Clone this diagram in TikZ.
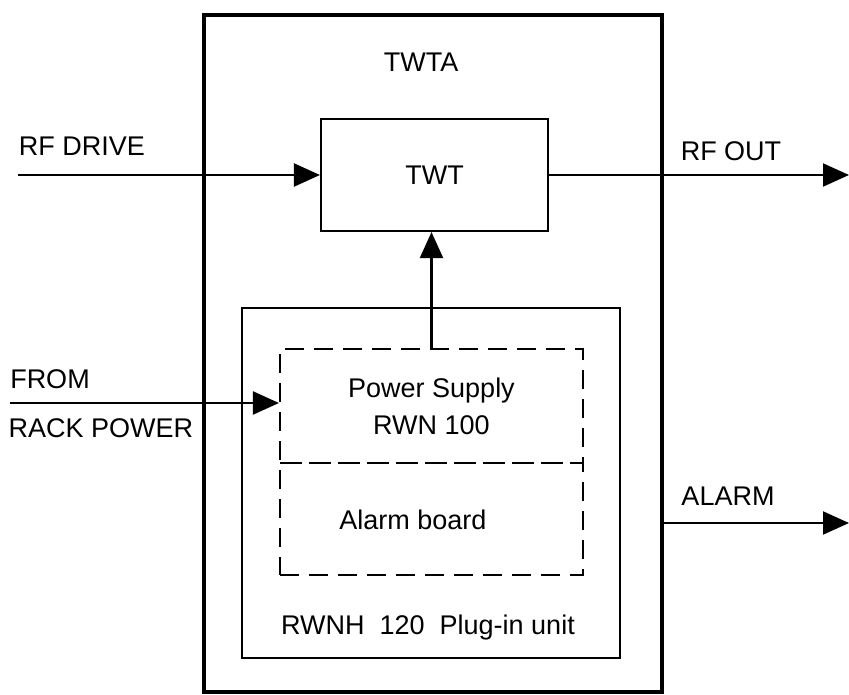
\documentclass[tikz,border=0pt]{standalone}
\usepackage{fontspec}
\setmainfont{Liberation Sans}
\usetikzlibrary{arrows.meta}

\begin{document}
\begin{tikzpicture}[x=1pt,y=-1pt,
    font=\fontsize{27}{37}\selectfont,
    box/.style={draw, line width=2.1pt, inner sep=0pt},
    dbox/.style={draw, line width=2.1pt, inner sep=0pt, dash pattern=on 19pt off 10pt},
    sig/.style={line width=2.1pt, -{Triangle[length=26pt,width=23pt]}}]
            \useasboundingbox (0,0) rectangle (849,695);

            % boxes
            \node[box, line width=3.2pt, minimum width=458pt, minimum height=677pt] (twta) at (433,353.5) {};
            \node[box, minimum width=227pt, minimum height=112pt] (twt) at (434.5,175) {TWT};
            \node[box, minimum width=378pt, minimum height=350pt] (plugin) at (431,483) {};
            \node[dbox, minimum width=303pt, minimum height=114pt, align=center] (psu) at (431.5,406) {Power Supply\\RWN 100};
            \node[dbox, minimum width=303pt, minimum height=112pt] (alarmbd) at (431.5,519) {};

            % labels
            \node (twtalbl) at (421,62) {TWTA};
            \node (alarmlbl) at (413,520) {Alarm board};
            \node (pluginlbl) at (428,628) {RWNH\ \ 120\ \ Plug-in unit};
            \node (rfin) at (82,146) {RF DRIVE};
            \node (rfout) at (731,151) {RF OUT};
            \node (from) at (50,379) {FROM};
            \node (rack) at (101,428) {RACK POWER};
            \node (alarm) at (728,496) {ALARM};

            % signals
            \coordinate (rfsrc) at (18,175);
            \coordinate (rfdst) at (849,175);
            \coordinate (pwrsrc) at (10,403);
            \coordinate (alarmdst) at (849,523);
            \draw[sig] (rfsrc) -- (twt.west);
            \draw[sig] (twt.east) -- (rfdst);
            \draw[sig] (pwrsrc) -- (pwrsrc -| psu.west);
            \draw[sig] (psu.north) -- (psu.north |- twt.south);
            \draw[sig] (alarmdst -| twta.east) -- (alarmdst);
        \end{tikzpicture}
\end{document}
